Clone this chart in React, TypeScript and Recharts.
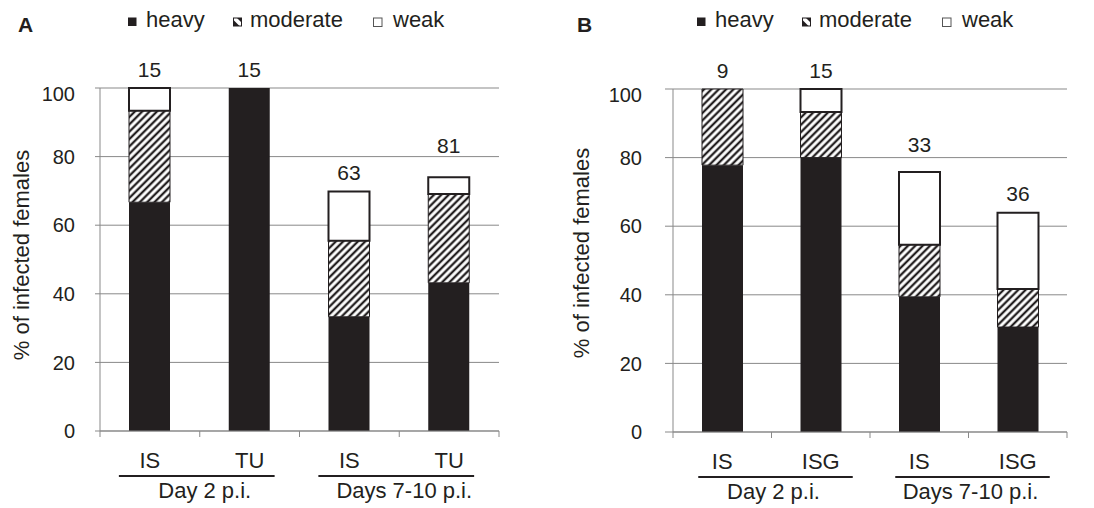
import React from 'react';
import { BarChart, Bar, XAxis, YAxis, CartesianGrid, LabelList, Label } from 'recharts';

// ---------- data ----------
const categoriesA = ['IS', 'TU', 'IS', 'TU'];
const heavyA = [66.7, 100, 33.3, 43.2];
const moderateA = [26.7, 0, 22.2, 25.9];
const weakA = [6.6, 0, 14.3, 4.9];
const countsA = [15, 15, 63, 81];
const groupsA = ['Day 2 p.i.', 'Days 7-10 p.i.'];

const categoriesB = ['IS', 'ISG', 'IS', 'ISG'];
const heavyB = [77.8, 80, 39.4, 30.6];
const moderateB = [22.2, 13.3, 15.2, 11.1];
const weakB = [0, 6.7, 21.2, 22.2];
const countsB = [9, 15, 33, 36];
const groupsB = ['Day 2 p.i.', 'Days 7-10 p.i.'];

const yTicks = [0, 20, 40, 60, 80, 100];
const legendLabels = ['heavy', 'moderate', 'weak'];
const yAxisTitle = '% of infected females';

// ---------- styles ----------
const FONT = '"Liberation Sans", Arial, Helvetica, sans-serif';
const INK = '#231f20';
const AXIS = '#898989';

type Cfg = {
  id: string;
  letter: string;
  left: number;
  marginLeft: number;
  marginRight: number;
  marginTop: number;
  marginBottom: number;
  plotBottom: number;
  tickSize: number;
  tickMargin: number;
  band: number;
  legendX: number;
  letterX: number;
  ylabelX: number;
  ylabelY: number;
  lifts: number[];
  ulLeft: number;
  ulRight: number;
  groupShift: number;
};

const cfgA: Cfg = {
  id: 'A', letter: 'A', left: 0,
  marginLeft: 40, marginRight: 48, marginTop: 88, marginBottom: 47,
  plotBottom: 431, tickSize: 5, tickMargin: 20, band: 99.75,
  legendX: 128, letterX: 18, ylabelX: 21, ylabelY: 255,
  lifts: [19, 19, 19, 32], ulLeft: -31, ulRight: 25, groupShift: 5,
};
const cfgB: Cfg = {
  id: 'B', letter: 'B', left: 547,
  marginLeft: 66, marginRight: 27, marginTop: 89, marginBottom: 46,
  plotBottom: 432, tickSize: 8, tickMargin: 23, band: 98.5,
  legendX: 150, letterX: 30, ylabelX: 34, ylabelY: 253,
  lifts: [19, 19, 28, 19], ulLeft: -24, ulRight: 32, groupShift: 2,
};

const build = (cats: string[], h: number[], m: number[], w: number[], n: number[]) =>
  cats.map((c, i) => ({ cat: c, heavy: h[i], moderate: m[i], weak: w[i], n: n[i], total: h[i] + m[i] + w[i] }));

const XTick = (props: any) => {
  const { x, index, payload, cfg, groups } = props;
  const bw = cfg.band;
  const base = cfg.plotBottom;
  return (
    <g>
      <line x1={x - bw / 2} x2={x - bw / 2} y1={base} y2={base + 6} stroke={AXIS} strokeWidth={1} />
      {index === 3 && (
        <line x1={x + bw / 2} x2={x + bw / 2} y1={base} y2={base + 6} stroke={AXIS} strokeWidth={1} />
      )}
      <text x={x} y={base + 37} textAnchor="middle" fontFamily={FONT} fontSize={22} fill={INK}>
        {payload.value}
      </text>
      {index % 2 === 0 && (
        <g>
          <line x1={x + cfg.ulLeft} x2={x + bw + cfg.ulRight} y1={base + 45} y2={base + 45} stroke={INK} strokeWidth={2} />
          <text x={x + bw / 2 + cfg.groupShift} y={base + 67} textAnchor="middle" fontFamily={FONT} fontSize={22} fill={INK}>
            {groups[index / 2]}
          </text>
        </g>
      )}
    </g>
  );
};

const YTick = (props: any) => {
  const { x, y, payload } = props;
  const shift = payload.value === 100 ? 6 : 0;
  return (
    <text x={x} y={y + shift} dy="0.36em" textAnchor="end" fontFamily={FONT} fontSize={20} fill={INK}>
      {payload.value}
    </text>
  );
};

const Overlay = ({ cfg }: { cfg: Cfg }) => {
  const lx = cfg.legendX;
  const sqY = 17.5;
  const base = 26.5;
  const offs = [0, 105, 245];
  return (
    <svg width={547} height={60} style={{ position: 'absolute', left: 0, top: 0, pointerEvents: 'none' }}>
      <text x={cfg.letterX} y={32} fontFamily={FONT} fontWeight="bold" fontSize={21} fill={INK}>
        {cfg.letter}
      </text>
      <rect x={lx + offs[0]} y={sqY} width={8.5} height={8.5} fill={INK} />
      <rect x={lx + offs[1] + 0.5} y={sqY + 0.5} width={8} height={8} fill="#fff" stroke={INK} strokeWidth={1} />
      <polygon
        points={`${lx + offs[1] + 0.5},${sqY + 8.5} ${lx + offs[1] + 0.5},${sqY + 2.5} ${lx + offs[1] + 6.5},${sqY + 8.5}`}
        fill={INK}
      />
      <polygon
        points={`${lx + offs[1] + 4},${sqY + 0.5} ${lx + offs[1] + 8.5},${sqY + 0.5} ${lx + offs[1] + 8.5},${sqY + 5}`}
        fill={INK}
      />
      <rect x={lx + offs[2] + 0.5} y={sqY + 0.5} width={8.5} height={8.5} fill="#fff" stroke="#555" strokeWidth={1} />
      {legendLabels.map((t, i) => (
        <text key={t} x={lx + offs[i] + (i === 2 ? 20 : 18) - (i === 1 ? 1 : 0)} y={base} fontFamily={FONT} fontSize={22} fill={INK}>
          {t}
        </text>
      ))}
    </svg>
  );
};

const Panel = ({ cfg, data, groups }: { cfg: Cfg; data: any[]; groups: string[] }) => {
  const hatchId = `hatch${cfg.id}`;
  return (
    <div style={{ position: 'absolute', left: cfg.left, top: 0, width: 547, height: 508 }}>
      <BarChart
        width={547}
        height={508}
        data={data}
        margin={{ top: cfg.marginTop, right: cfg.marginRight, bottom: cfg.marginBottom, left: cfg.marginLeft }}
        barCategoryGap={0}
      >
        <defs>
          <pattern id={hatchId} patternUnits="userSpaceOnUse" width={5.2} height={5.2} patternTransform="rotate(45)">
            <rect width={5.2} height={5.2} fill="#fff" />
            <line x1={2.6} y1={0} x2={2.6} y2={5.2} stroke={INK} strokeWidth={2.3} />
          </pattern>
        </defs>
        <CartesianGrid vertical={false} stroke={AXIS} strokeWidth={1} />
        <XAxis
          dataKey="cat"
          interval={0}
          height={30}
          axisLine={{ stroke: AXIS, strokeWidth: 1 }}
          tickLine={false}
          tick={<XTick cfg={cfg} groups={groups} />}
        />
        <YAxis
          domain={[0, 100]}
          ticks={yTicks}
          width={60}
          interval={0}
          axisLine={{ stroke: AXIS, strokeWidth: 1 }}
          tickLine={{ stroke: AXIS, strokeWidth: 1 }}
          tickSize={cfg.tickSize}
          tickMargin={cfg.tickMargin}
          tick={<YTick />}
        >
          <Label
            content={() => (
              <text
                x={cfg.ylabelX}
                y={cfg.ylabelY}
                transform={`rotate(-90 ${cfg.ylabelX} ${cfg.ylabelY})`}
                textAnchor="middle"
                dominantBaseline="central"
                fontFamily={FONT}
                fontSize={22}
                fill={INK}
              >
                {yAxisTitle}
              </text>
            )}
          />
        </YAxis>
        <Bar dataKey="heavy" stackId="s" fill={INK} barSize={41} isAnimationActive={false}>
          <LabelList
            dataKey="heavy"
            content={(p: any) => {
              const i = p.index;
              const row = data[i];
              const pxPerUnit = p.height / row.heavy;
              const baseY = p.y + p.height;
              const topY = baseY - row.total * pxPerUnit;
              const cx = p.x + p.width / 2;
              const cy = topY - cfg.lifts[i];
              return (
                <text x={cx} y={cy + 7.5} textAnchor="middle" fontFamily={FONT} fontSize={21} fill={INK}>
                  {row.n}
                </text>
              );
            }}
          />
        </Bar>
        <Bar dataKey="moderate" stackId="s" fill={`url(#${hatchId})`} stroke={INK} strokeWidth={1} barSize={41} isAnimationActive={false} />
        <Bar dataKey="weak" stackId="s" fill="#fff" stroke={INK} strokeWidth={2} barSize={41} isAnimationActive={false} />
      </BarChart>
      <Overlay cfg={cfg} />
    </div>
  );
};

export default function App() {
  const dataA = build(categoriesA, heavyA, moderateA, weakA, countsA);
  const dataB = build(categoriesB, heavyB, moderateB, weakB, countsB);
  return (
    <div style={{ position: 'absolute', left: 0, top: 0, width: 1094, height: 508, background: '#fff' }}>
      <Panel cfg={cfgA} data={dataA} groups={groupsA} />
      <Panel cfg={cfgB} data={dataB} groups={groupsB} />
    </div>
  );
}
